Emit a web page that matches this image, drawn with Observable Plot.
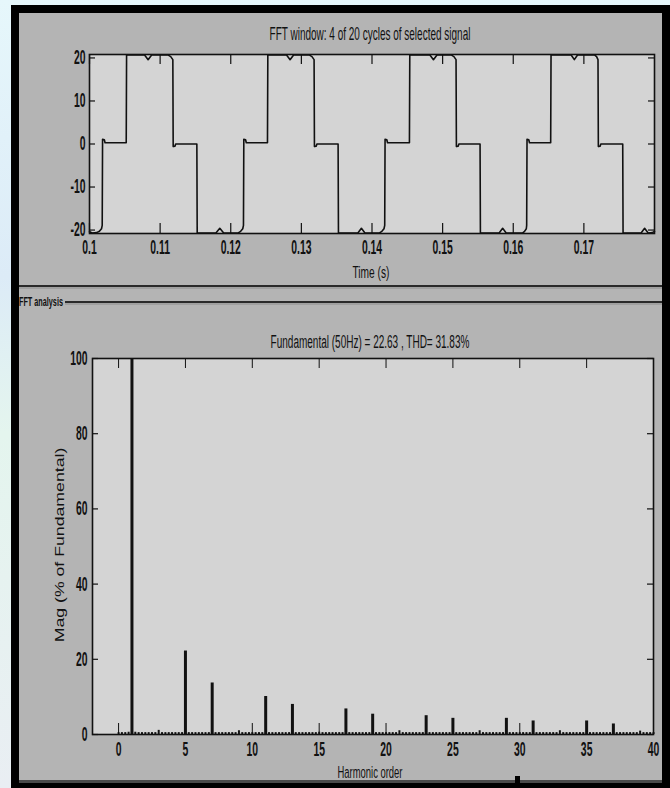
<!DOCTYPE html>
<html>
<head>
<meta charset="utf-8">
<script src="https://cdn.jsdelivr.net/npm/d3@7"></script>
<script src="https://cdn.jsdelivr.net/npm/@observablehq/plot@0.6"></script>
<style>
  html, body { margin: 0; padding: 0; background: #ffffff; }
  #page { position: relative; width: 670px; height: 788px; overflow: hidden;
          background: linear-gradient(180deg, #e6f7fb 0%, #dcebf7 35%, #e4f5ee 55%, #e9eef3 100%); }
  #frame { position: absolute; left: 11px; top: 5px; width: 659px; height: 783px; background: #000; }
  #panel { position: absolute; left: 19px; top: 13px; width: 643px; height: 767px; background: #b4b4b4; }
  #panelEdge { position: absolute; left: 19px; top: 780px; width: 643px; height: 3px; background: #4a4a4a; }
  .abs { position: absolute; left: 0; }
  svg { overflow: visible; }
</style>
</head>
<body>
<div id="page">
  <div id="frame"></div>
  <div id="panel"></div>
  <div id="panelEdge"></div>
  <div id="topChart" class="abs" style="top:0px"></div>
  <div id="bottomChart" class="abs" style="top:300px"></div>
  <div id="overlay" class="abs" style="top:0px"></div>
</div>
<script>
// ---------------- data ----------------
// FFT window signal: time (s) and voltage
const waveTime = [
  0.10000,0.10040,0.10100,0.10140,0.10170,0.10180,0.10185,0.10210,0.10220,0.10520,0.10525,0.10780,0.10830,0.10880,0.11110,0.11150,0.11180,0.11185,0.11210,0.11220,0.11520,0.11525,0.11790,0.11845,0.11900,
  0.12100,0.12140,0.12170,0.12180,0.12185,0.12210,0.12220,0.12520,0.12525,0.12790,0.12840,0.12890,0.13110,0.13150,0.13180,0.13185,0.13210,0.13220,0.13520,0.13525,0.13800,0.13850,0.13900,
  0.14100,0.14140,0.14170,0.14180,0.14185,0.14210,0.14220,0.14530,0.14535,0.14820,0.14870,0.14920,0.15120,0.15160,0.15190,0.15195,0.15220,0.15230,0.15530,0.15535,0.15800,0.15850,0.15900,
  0.16130,0.16160,0.16185,0.16190,0.16195,0.16220,0.16230,0.16530,0.16535,0.16820,0.16865,0.16910,0.17150,0.17180,0.17200,0.17205,0.17230,0.17240,0.17550,0.17555,0.17810,0.17860,0.17910,0.17970,0.18000
];
const waveValue = [
  -20.4,-20.7,-20.6,-20.3,-19.7,-18.9,1.1,1.0,0.3,0.3,20.7,20.7,19.6,20.7,20.7,20.3,19.6,-0.6,-0.5,0.0,0.0,-20.7,-20.7,-19.6,-20.7,
  -20.7,-20.3,-19.7,-18.9,1.1,1.0,0.3,0.3,20.7,20.7,19.6,20.7,20.7,20.3,19.6,-0.6,-0.5,0.0,0.0,-20.7,-20.7,-19.6,-20.7,
  -20.7,-20.3,-19.7,-18.9,1.1,1.0,0.3,0.3,20.7,20.7,19.6,20.7,20.7,20.3,19.6,-0.6,-0.5,0.0,0.0,-20.7,-20.7,-19.6,-20.7,
  -20.7,-20.3,-19.7,-18.9,1.1,1.0,0.3,0.3,20.7,20.7,19.6,20.7,20.7,20.3,19.6,-0.6,-0.5,0.0,0.0,-20.7,-20.7,-19.6,-20.7,-20.6,-20.3
];
const timeTicks = [0.10, 0.11, 0.12, 0.13, 0.14, 0.15, 0.16, 0.17];
const voltTicks = [-20, -10, 0, 10, 20];

// Harmonic spectrum (% of fundamental) at integer orders 0..40
const harmonicOrder = [0,1,2,3,4,5,6,7,8,9,10,11,12,13,14,15,16,17,18,19,20,21,22,23,24,25,26,27,28,29,30,31,32,33,34,35,36,37,38,39,40];
const harmonicMag   = [0.5,100,0.5,1.1,0.5,22.2,0.5,13.7,0.5,1.0,0.5,10.1,0.5,8.0,0.5,0.6,0.5,6.8,0.5,5.4,0.5,1.0,0.5,5.0,0.5,4.3,0.5,1.0,0.5,4.3,0.5,3.6,0.5,1.0,0.5,3.6,0.5,2.8,0.5,0.9,0.5];
// Inter-harmonic bins (order + 0.25, + 0.5, + 0.75) for orders 0..39
const binStep = 0.25;
const interharmonicMag = [
  0.5,0.5,0.6, 0.6,0.5,0.5, 0.5,0.5,0.5, 0.5,0.5,0.5, 0.5,0.5,0.5, 0.5,0.5,0.5, 0.5,0.5,0.5, 0.5,0.5,0.5, 0.5,0.5,0.5, 0.5,0.5,0.5,
  0.5,0.5,0.5, 0.5,0.5,0.5, 0.5,0.5,0.5, 0.5,0.5,0.5, 0.5,0.5,0.5, 0.5,0.5,0.5, 0.5,0.5,0.5, 0.5,0.5,0.5, 0.5,0.5,0.5, 0.5,0.5,0.5,
  0.5,0.5,0.5, 0.5,0.5,0.5, 0.5,0.5,0.5, 0.5,0.5,0.5, 0.5,0.5,0.5, 0.5,0.5,0.5, 0.5,0.5,0.5, 0.5,0.5,0.5, 0.5,0.5,0.5, 0.5,0.5,0.5,
  0.5,0.5,0.5, 0.5,0.5,0.5, 0.5,0.5,0.5, 0.5,0.5,0.5, 0.5,0.5,0.5, 0.5,0.5,0.5, 0.5,0.5,0.5, 0.5,0.5,0.5, 0.5,0.5,0.5, 0.5,0.5,0.5
];
const harmTicks = [0, 5, 10, 15, 20, 25, 30, 35, 40];
const magTicks = [0, 20, 40, 60, 80, 100];

const titleTop = "FFT window: 4 of 20 cycles of selected signal";
const titleBottom = "Fundamental (50Hz) = 22.63 , THD= 31.83%";
const xLabelTop = "Time (s)";
const xLabelBottom = "Harmonic order";
const yLabelBottom = "Mag (% of Fundamental)";
const sectionLabel = "FFT analysis";

// ---------------- helpers ----------------
const FONT = "'Liberation Sans', Arial, Helvetica, sans-serif";
const INK = "#111";
function squeeze(svg, k) {
  d3.select(svg).selectAll('g[aria-label$="tick label"] text').each(function () {
    const t = this.getAttribute("transform") || "";
    this.setAttribute("transform", `${t} scale(${k},1)`);
  });
}

// ---------------- top chart ----------------
const waveRows = waveTime.map((t, i) => ({t, v: waveValue[i]}));
const topW = 670, topH = 262, topML = 89, topMR = 16, topMT = 54, topMB = 29;
const topIW = topW - topML - topMR, topIH = topH - topMT - topMB;
const topChart = Plot.plot({
  width: topW, height: topH,
  marginLeft: topML, marginRight: topMR, marginTop: topMT, marginBottom: topMB,
  style: {background: "transparent", fontFamily: FONT, fontSize: "20px", fontWeight: "bold", color: INK},
  x: {domain: [0.1, 0.18], ticks: timeTicks, tickFormat: d => String(+d.toFixed(2)), tickSize: 0, tickPadding: 6, label: null},
  y: {domain: [-20.8, 20.8], ticks: voltTicks, tickFormat: d => String(d), tickSize: 0, tickPadding: 4, label: null},
  marks: [
    Plot.frame({fill: "#d4d4d4", stroke: null}),
    Plot.line(waveRows, {x: "t", y: "v", stroke: INK, strokeWidth: 1.6}),
    Plot.ruleX(timeTicks, {x: d => d, insetTop: topIH - 10, stroke: INK, strokeWidth: 1.2}),
    Plot.ruleX(timeTicks, {x: d => d, insetBottom: topIH - 10, stroke: INK, strokeWidth: 1.2}),
    Plot.ruleY(voltTicks, {y: d => d, insetRight: topIW - 6, stroke: INK, strokeWidth: 1.2}),
    Plot.ruleY(voltTicks, {y: d => d, insetLeft: topIW - 6, stroke: INK, strokeWidth: 1.2}),
    Plot.frame({stroke: INK, strokeWidth: 1.6})
  ]
});
squeeze(topChart, 0.52);
document.getElementById("topChart").appendChild(topChart);

// ---------------- bottom chart ----------------
const harmRows = harmonicOrder.map((h, i) => ({h, m: harmonicMag[i]}));
const interRows = interharmonicMag.map((m, i) => ({h: Math.floor(i / 3) + binStep * (i % 3 + 1), m}));
const botW = 670, botH = 470, botML = 92, botMR = 17, botMT = 58, botMB = 36;
const botIW = botW - botML - botMR, botIH = botH - botMT - botMB;
const bottomChart = Plot.plot({
  width: botW, height: botH,
  marginLeft: botML, marginRight: botMR, marginTop: botMT, marginBottom: botMB,
  style: {background: "transparent", fontFamily: FONT, fontSize: "20px", fontWeight: "bold", color: INK},
  x: {domain: [-1.95, 40], ticks: harmTicks, tickFormat: d => String(d), tickSize: 0, tickPadding: 7, label: null},
  y: {domain: [0, 100], ticks: magTicks, tickFormat: d => String(d), tickSize: 0, tickPadding: 5, label: null},
  marks: [
    Plot.frame({fill: "#d4d4d4", stroke: null}),
    Plot.ruleX(interRows, {x: "h", y1: 0, y2: "m", stroke: INK, strokeWidth: 2}),
    Plot.ruleX(harmRows, {x: "h", y1: 0, y2: "m", stroke: INK, strokeWidth: d => d.m > 2 ? 3 : 2}),
    Plot.ruleX(harmTicks, {x: d => d, insetTop: botIH - 11, stroke: INK, strokeWidth: 1}),
    Plot.ruleX(harmTicks, {x: d => d, insetBottom: botIH - 10, stroke: INK, strokeWidth: 1}),
    Plot.ruleY(magTicks, {y: d => d, insetRight: botIW - 6, stroke: INK, strokeWidth: 1.2}),
    Plot.ruleY(magTicks, {y: d => d, insetLeft: botIW - 6, stroke: INK, strokeWidth: 1.2}),
    Plot.frame({stroke: INK, strokeWidth: 1.6})
  ]
});
squeeze(bottomChart, 0.52);
document.getElementById("bottomChart").appendChild(bottomChart);

// ---------------- overlay texts & separators ----------------
const ov = d3.select("#overlay").append("svg")
  .attr("width", 670).attr("height", 788)
  .style("display", "block").style("pointer-events", "none");

function fitText(str, x, y, size, target, anchor = "middle", rotate = 0, weight = "bold") {
  const t = ov.append("text").text(str)
    .attr("font-family", FONT).attr("font-size", size).attr("font-weight", weight)
    .attr("fill", INK).attr("text-anchor", anchor);
  const len = t.node().getComputedTextLength() || 1;
  const k = target / len;
  t.attr("transform", `translate(${x},${y})${rotate ? ` rotate(${rotate})` : ""} scale(${k},1)`);
  return t;
}

// separators
ov.append("line").attr("x1", 19).attr("x2", 662).attr("y1", 286).attr("y2", 286).attr("stroke", "#2a2a2a").attr("stroke-width", 2);
ov.append("line").attr("x1", 19).attr("x2", 662).attr("y1", 288).attr("y2", 288).attr("stroke", "#8c8c8c").attr("stroke-width", 1);
ov.append("line").attr("x1", 65).attr("x2", 662).attr("y1", 302).attr("y2", 302).attr("stroke", "#2a2a2a").attr("stroke-width", 2);
ov.append("line").attr("x1", 65).attr("x2", 662).attr("y1", 304).attr("y2", 304).attr("stroke", "#8c8c8c").attr("stroke-width", 1);

fitText(titleTop, 370, 40, 18, 201, "middle", 0, "normal");
fitText(xLabelTop, 371, 278, 16, 37, "middle", 0, "normal");
fitText(sectionLabel, 19, 306, 13, 44, "start", 0, "bold");
fitText(titleBottom, 370, 348, 18, 199, "middle", 0, "normal");
fitText(xLabelBottom, 370, 778, 17, 65, "middle", 0, "normal");
fitText(yLabelBottom, 64, 545, 13, 195, "middle", -90, "normal");

// small black marker at the bottom edge
ov.append("rect").attr("x", 515).attr("y", 776).attr("width", 5).attr("height", 7).attr("fill", "#000");
</script>
</body>
</html>
